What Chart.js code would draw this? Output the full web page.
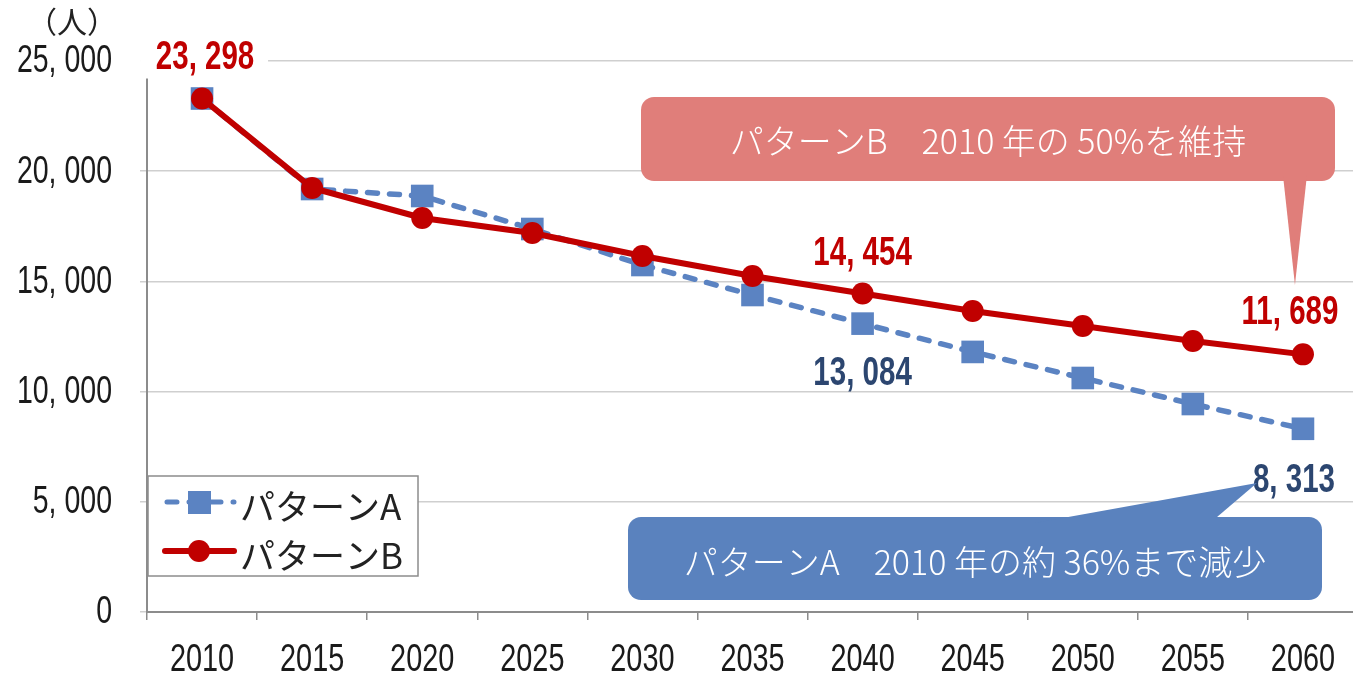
<!DOCTYPE html>
<html lang="ja">
<head>
<meta charset="utf-8">
<script src="https://cdn.jsdelivr.net/npm/chart.js@4.4.1/dist/chart.umd.min.js"></script>
<style>
html, body { margin: 0; padding: 0; background: #fff; overflow: hidden; }
#wrap { width: 1353px; height: 679px; overflow: hidden; }
</style>
</head>
<body>
<div id="wrap"><canvas id="popChart" width="1358" height="679"></canvas></div>
<script>
var years = ['2010', '2015', '2020', '2025', '2030', '2035', '2040', '2045', '2050', '2055', '2060'];
var patternA = [23298, 19192, 18875, 17377, 15744, 14383, 13084, 11800, 10617, 9437, 8313];
var patternB = [23298, 19238, 17877, 17196, 16152, 15245, 14454, 13657, 12977, 12296, 11689];
var seriesNames = ['パターンA', 'パターンB'];
var yMin = 0, yMax = 25000, yStep = 5000;
var unitLabel = '（人）';
var noteA = 'パターンA　2010 年の約 36%まで減少';
var noteB = 'パターンB　2010 年の 50%を維持';

var blue = '#5b83c2';
var red = '#c00000';
var numFont = "'Liberation Sans', Arial, sans-serif";
var jpFont = "'Noto Sans CJK JP', 'Noto Sans', sans-serif";

function fmt(v) {
	if (v === 0) return '0';
	return v.toLocaleString('en-US').replace(',', ', ');
}

// narrow looking numbers: squeeze the text sideways
function drawNum(ctx, text, x, y, align, color, font, squeeze) {
	ctx.save();
	ctx.translate(x, y);
	ctx.scale(squeeze, 1);
	ctx.fillStyle = color;
	ctx.font = font;
	ctx.textAlign = align;
	ctx.textBaseline = 'middle';
	ctx.fillText(text, 0, 0);
	ctx.restore();
}

// which points get a value label: [dataset index, point index, dx, dy, colour, white box]
var labelled = [
	[1, 0, 3, -41, red, true],
	[1, 6, 0, -40, red, false],
	[0, 6, 0, 50, '#2c4670', false],
	[1, 10, -13, -42, red, false],
	[0, 10, -9, 52, '#2c4670', false]
];

function bubble(ctx, bx, by, bw, bh, tail, color) {
	ctx.fillStyle = color;
	ctx.beginPath();
	ctx.roundRect(bx, by, bw, bh, 13);
	ctx.fill();
	ctx.beginPath();
	ctx.moveTo(tail[0], tail[1]);
	ctx.lineTo(tail[2], tail[3]);
	ctx.lineTo(tail[4], tail[5]);
	ctx.closePath();
	ctx.fill();
}

var overlay = {
	id: 'overlay',
	afterDraw: function(chart) {
		let ctx = chart.ctx;
		let sx = chart.scales.x;
		let sy = chart.scales.y;
		let sets = [patternA, patternB];
		let axisFont = '38px ' + numFont;
		ctx.save();

		// axis labels
		for (let v = yMin; v <= yMax; v += yStep) {
			drawNum(ctx, fmt(v), 112, sy.getPixelForValue(v) + 1, 'right', '#1a1a1a', axisFont, 0.75);
		}
		years.forEach(function(yr, i) {
			drawNum(ctx, yr, sx.getPixelForValue(i), 661, 'center', '#1a1a1a', axisFont, 0.76);
		});

		// unit
		ctx.fillStyle = '#222';
		ctx.font = '30px ' + jpFont;
		ctx.textAlign = 'center';
		ctx.textBaseline = 'middle';
		ctx.fillText(unitLabel, 72, 22);

		// value labels
		labelled.forEach(function(l) {
			let px = sx.getPixelForValue(l[1]) + l[2];
			let py = sy.getPixelForValue(sets[l[0]][l[1]]) + l[3];
			if (l[5]) {
				ctx.fillStyle = '#fff';
				ctx.fillRect(px - 65, py - 21, 128, 42);
			}
			drawNum(ctx, fmt(sets[l[0]][l[1]]), px, py, 'center', l[4], 'bold 41px ' + numFont, 0.72);
		});

		// legend
		ctx.fillStyle = '#fff';
		ctx.fillRect(148, 476, 270, 100);
		ctx.strokeStyle = '#8c8c8c';
		ctx.lineWidth = 1.5;
		ctx.strokeRect(148, 476, 270, 100);

		ctx.lineWidth = 5;
		ctx.strokeStyle = blue;
		ctx.lineCap = 'round';
		ctx.setLineDash([10, 12]);
		ctx.beginPath();
		ctx.moveTo(167, 502);
		ctx.lineTo(234, 502);
		ctx.stroke();
		ctx.setLineDash([]);
		ctx.fillStyle = blue;
		ctx.fillRect(188, 491, 23, 23);

		ctx.lineWidth = 6;
		ctx.strokeStyle = red;
		ctx.beginPath();
		ctx.moveTo(165, 551);
		ctx.lineTo(234, 551);
		ctx.stroke();
		ctx.fillStyle = red;
		ctx.beginPath();
		ctx.arc(199, 551, 11, 0, Math.PI * 2);
		ctx.fill();

		ctx.fillStyle = '#222';
		ctx.font = '35px ' + jpFont;
		ctx.textAlign = 'left';
		ctx.textBaseline = 'middle';
		ctx.fillText(seriesNames[0], 240, 507);
		ctx.fillText(seriesNames[1], 240, 556);

		// callouts
		let x60 = sx.getPixelForValue(10);
		bubble(ctx, 641, 97, 694, 84, [x60 - 20, 175, x60 + 4, 175, x60 - 8, 285], '#e07e7a');
		bubble(ctx, 628, 517, 694, 83, [1035, 523, 1210, 523, x60 - 46, 483], '#5a82be');

		ctx.fillStyle = '#fff';
		ctx.font = '300 34px ' + jpFont;
		ctx.textAlign = 'center';
		ctx.fillText(noteB, 988, 141);
		ctx.fillText(noteA, 975, 562);
		ctx.restore();
	}
};

var config = {
	type: 'line',
	data: {
		labels: years,
		datasets: [
			{
				label: seriesNames[0],
				data: patternA,
				borderColor: blue,
				backgroundColor: blue,
				borderWidth: 5.5,
				borderDash: [10, 12],
				borderCapStyle: 'round',
				pointStyle: 'rect',
				pointRadius: 16,
				pointBorderWidth: 0,
				tension: 0,
				order: 1
			},
			{
				label: seriesNames[1],
				data: patternB,
				borderColor: red,
				backgroundColor: red,
				borderWidth: 6,
				pointStyle: 'circle',
				pointRadius: 11,
				pointBorderWidth: 0,
				tension: 0,
				order: 0
			}
		]
	},
	options: {
		responsive: false,
		devicePixelRatio: 1,
		animation: false,
		layout: { autoPadding: false, padding: { top: 61, right: 0, bottom: 0, left: 0 } },
		plugins: {
			legend: { display: false },
			tooltip: { enabled: false }
		},
		scales: {
			x: {
				offset: true,
				grid: {
					offset: true,
					drawOnChartArea: false,
					drawTicks: true,
					tickLength: 8,
					color: '#8c8c8c',
					lineWidth: 1.5
				},
				border: { color: '#8c8c8c', width: 2 },
				ticks: { display: false },
				afterFit: function(scale) { scale.height = 67; }
			},
			y: {
				min: yMin,
				max: yMax,
				grid: {
					color: '#cfcfcf',
					lineWidth: 1.5,
					tickLength: 7
				},
				border: { color: '#8c8c8c', width: 2 },
				ticks: { display: false, stepSize: yStep },
				afterFit: function(scale) { scale.width = 147; }
			}
		}
	},
	plugins: [overlay]
};

var popChart = new Chart(document.getElementById('popChart'), config);
</script>
</body>
</html>
